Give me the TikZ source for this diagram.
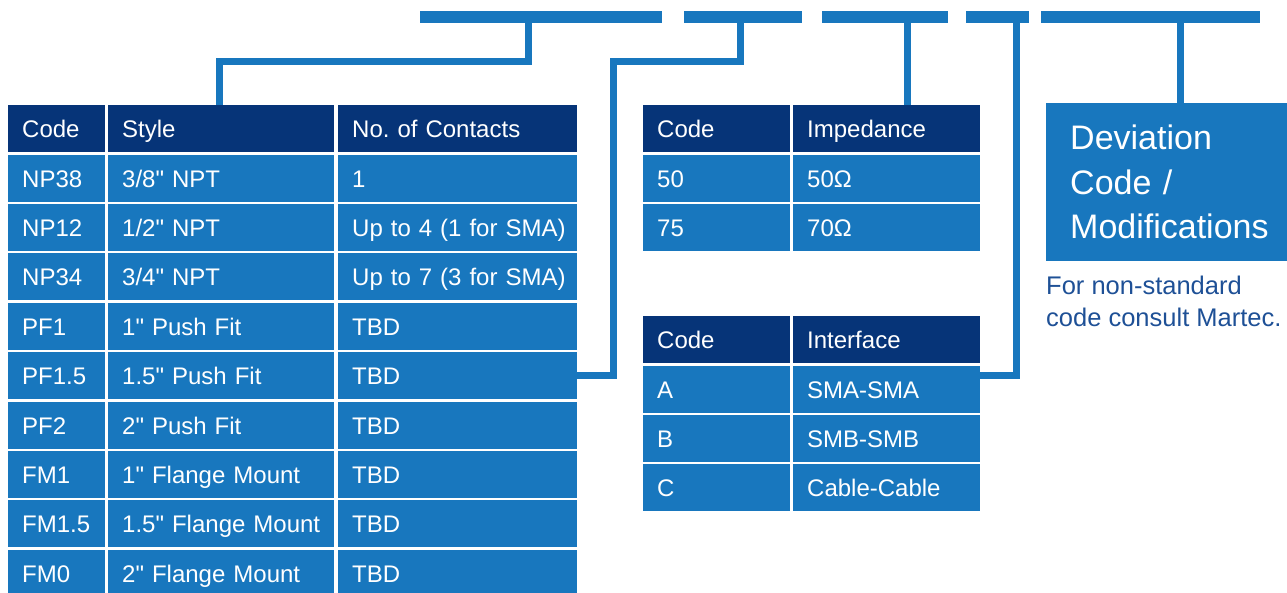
\documentclass[tikz,border=0pt]{standalone}
\usepackage{fontspec}
\setmainfont{Liberation Sans}[Ligatures=TeXOff]
\definecolor{martecNavy}{RGB}{6,52,120}
\definecolor{martecBlue}{RGB}{24,119,190}
\definecolor{martecText}{RGB}{30,80,150}

\begin{document}
\frenchspacing
\begin{tikzpicture}[x=1pt, y=-1pt,
		cell/.style={fill=martecBlue, text=white, anchor=north west, minimum height=47pt,
			inner xsep=14pt, inner ysep=0pt, align=left, text height=18pt, text depth=0pt,
			font=\fontsize{24}{28}\selectfont},
		head/.style={cell, fill=martecNavy},
		bar/.style={fill=martecBlue, inner sep=0pt, minimum height=11.5pt, anchor=west},
		link/.style={draw=martecBlue, line width=7pt}]
			\useasboundingbox (0,0) rectangle (1287,593);

			% part number segments
			\node[bar, minimum width=242pt] (bar1) at (420,17) {};
			\node[bar, minimum width=118pt] (bar2) at (684,17) {};
			\node[bar, minimum width=126pt] (bar3) at (822,17) {};
			\node[bar, minimum width=63pt] (bar4) at (966,17) {};
			\node[bar, minimum width=219pt] (bar5) at (1041,17) {};

			% style table
			\node[head, text width=69pt] (hcode) at (8,105) {Code};
			\node[head, text width=198pt] (hstyle) at (108,105) {Style};
			\node[head, text width=211pt] (hcont) at (338,105) {No. of Contacts};
			\foreach \code/\style/\pins [count=\i] in {NP38/{3/8" NPT}/1,
					NP12/{1/2" NPT}/{Up to 4 (1 for SMA)}, NP34/{3/4" NPT}/{Up to 7 (3 for SMA)},
					PF1/1" Push Fit/TBD, PF1.5/1.5" Push Fit/TBD, PF2/2" Push Fit/TBD,
					FM1/1" Flange Mount/TBD, FM1.5/1.5" Flange Mount/TBD, FM0/2" Flange Mount/TBD} {
				\node[cell, text width=69pt] (code\i) at (8,105+49.4*\i) {\code};
				\node[cell, text width=198pt] (style\i) at (108,105+49.4*\i) {\mbox{\style}};
				\node[cell, text width=211pt] (cont\i) at (338,105+49.4*\i) {\mbox{\pins}};
			}

			% impedance table
			\node[head, text width=119pt] (himc) at (643,105) {Code};
			\node[head, text width=159pt] (himp) at (793,105) {Impedance};
			\foreach \code/\ohm [count=\i] in {50/50Ω, 75/70Ω} {
				\node[cell, text width=119pt] (imc\i) at (643,105+49.4*\i) {\code};
				\node[cell, text width=159pt] (imv\i) at (793,105+49.4*\i) {\ohm};
			}

			% interface table
			\node[head, text width=119pt] (hifc) at (643,316) {Code};
			\node[head, text width=159pt] (hifn) at (793,316) {Interface};
			\foreach \code/\iface [count=\i] in {A/SMA-SMA, B/SMB-SMB, C/Cable-Cable} {
				\node[cell, text width=119pt] (ifc\i) at (643,316+49.4*\i) {\code};
				\node[cell, text width=159pt] (ifn\i) at (793,316+49.4*\i) {\iface};
			}

			% deviation code
			\node[fill=martecBlue, text=white, anchor=north west, minimum height=158pt,
				text width=201pt, inner xsep=24pt, inner ysep=0pt, align=left,
				font=\fontsize{34}{44.5}\selectfont] (dev) at (1046,103) {Deviation\\Code /\\Modifications};
			\node[anchor=north west, inner sep=0pt, text=martecText, align=left,
				font=\fontsize{25.5}{32}\selectfont] (devnote) at ([yshift=-14pt]dev.south west)
				{For non-standard\\code consult Martec.};

			% leaders from the segments down to the tables
			\coordinate (tap1) at ([xshift=-13pt]bar1.south);
			\coordinate (tap2) at ([xshift=-3pt]bar2.south);
			\coordinate (tap3) at ([xshift=22pt]bar3.south);
			\coordinate (tap4) at ([xshift=19pt]bar4.south);
			\coordinate (tap5) at ([xshift=30pt]bar5.south);
			\draw[link] (tap1) -- ++(0,39) -| ([xshift=-2pt]hstyle.north);
			\draw[link] (tap2) -- ++(0,39) -| ([xshift=36pt]cont5.east) -- (cont5.east);
			\draw[link] (tap3) -- (tap3 |- himp.north);
			\draw[link] (tap4) |- (ifn1.east |- cont5.east);
			\draw[link] (tap5) -- (tap5 |- dev.north);
		\end{tikzpicture}
\end{document}
